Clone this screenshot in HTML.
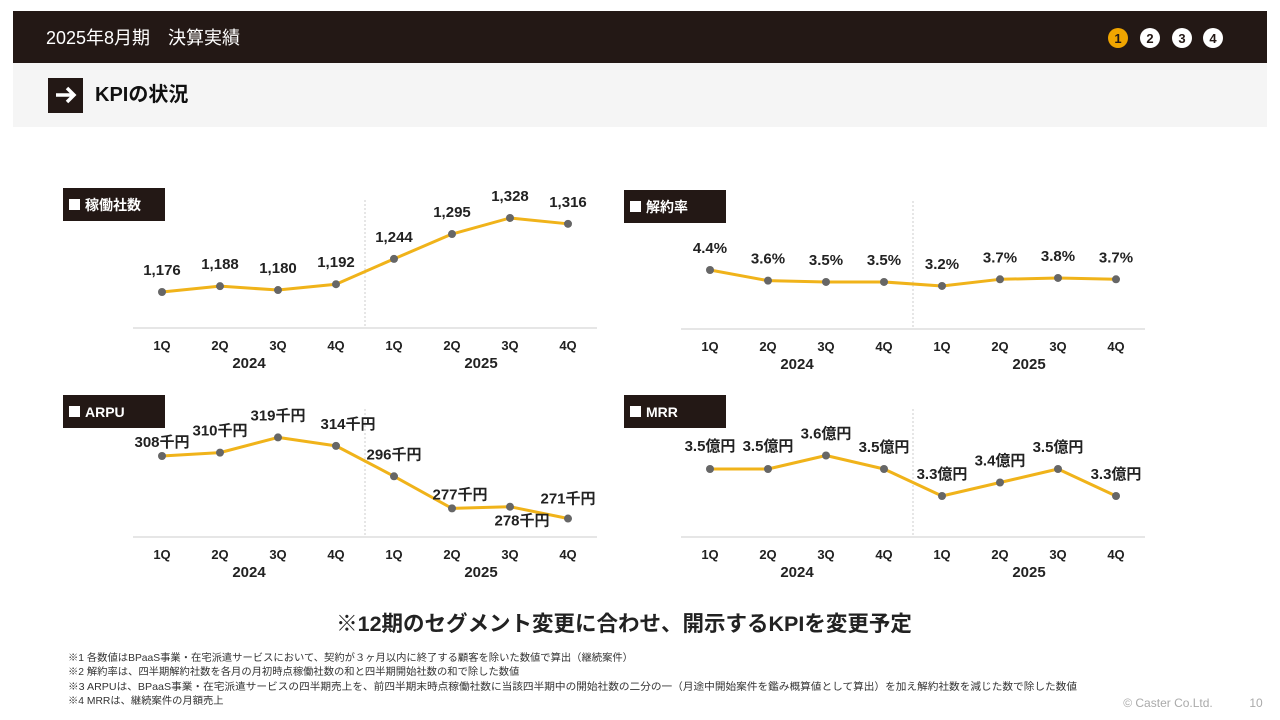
<!DOCTYPE html>
<html><head><meta charset="utf-8"><style>
body{margin:0;width:1280px;height:720px;background:#fff;overflow:hidden;font-family:"Liberation Sans","Noto Sans CJK JP",sans-serif;}
svg{position:absolute;left:0;top:0}
</style></head><body>
<svg width="1280" height="720" xmlns="http://www.w3.org/2000/svg" id="root" font-family="'Liberation Sans','Noto Sans CJK JP',sans-serif">
<rect x="13" y="11" width="1254" height="52" fill="#231815"/>
<text x="46" y="44" fill="#fff" font-size="18">2025年8月期　決算実績</text>
<g>
<circle cx="1118" cy="38" r="10" fill="#f0a500"/><text x="1118" y="43" text-anchor="middle" font-size="13" font-weight="bold" fill="#231815">1</text>
<circle cx="1150" cy="38" r="10" fill="#fff"/><text x="1150" y="43" text-anchor="middle" font-size="13" font-weight="bold" fill="#231815">2</text>
<circle cx="1182" cy="38" r="10" fill="#fff"/><text x="1182" y="43" text-anchor="middle" font-size="13" font-weight="bold" fill="#231815">3</text>
<circle cx="1213" cy="38" r="10" fill="#fff"/><text x="1213" y="43" text-anchor="middle" font-size="13" font-weight="bold" fill="#231815">4</text>
</g>
<rect x="13" y="63" width="1254" height="64" fill="#f5f5f5"/>
<rect x="48" y="78" width="35" height="35" fill="#231815"/>
<path d="M56 95 H74 M67 88 L74 95 L67 102" stroke="#fff" stroke-width="3.5" fill="none"/>
<text x="95" y="101" font-size="20" font-weight="bold" fill="#111">KPIの状況</text>
<g id="charts"></g>
<text x="624" y="631" text-anchor="middle" font-size="21.5" font-weight="bold" fill="#222">※12期のセグメント変更に合わせ、開示するKPIを変更予定</text>
<g font-size="10.3" fill="#333">
<text x="68" y="661">※1 各数値はBPaaS事業・在宅派遣サービスにおいて、契約が３ヶ月以内に終了する顧客を除いた数値で算出（継続案件）</text>
<text x="68" y="675">※2 解約率は、四半期解約社数を各月の月初時点稼働社数の和と四半期開始社数の和で除した数値</text>
<text x="68" y="690" textLength="1009" lengthAdjust="spacingAndGlyphs">※3 ARPUは、BPaaS事業・在宅派遣サービスの四半期売上を、前四半期末時点稼働社数に当該四半期中の開始社数の二分の一（月途中開始案件を鑑み概算値として算出）を加え解約社数を減じた数で除した数値</text>
<text x="68" y="704">※4 MRRは、継続案件の月額売上</text>
</g>
<text x="1168" y="707" text-anchor="middle" font-size="12" fill="#aaa">© Caster Co.Ltd.</text>
<text x="1256" y="707" text-anchor="middle" font-size="12" fill="#aaa">10</text>
</svg>
<script>
const quarters=["1Q","2Q","3Q","4Q","1Q","2Q","3Q","4Q"];
const years=["2024","2025"];
const clientsValues=[1176,1188,1180,1192,1244,1295,1328,1316];
const clientsLabels=["1,176","1,188","1,180","1,192","1,244","1,295","1,328","1,316"];
const churnValues=[4.4,3.6,3.5,3.5,3.2,3.7,3.8,3.7];
const churnLabels=["4.4%","3.6%","3.5%","3.5%","3.2%","3.7%","3.8%","3.7%"];
const arpuValues=[308,310,319,314,296,277,278,271];
const arpuLabels=["308千円","310千円","319千円","314千円","296千円","277千円","278千円","271千円"];
const mrrValues=[3.5,3.5,3.6,3.5,3.3,3.4,3.5,3.3];
const mrrLabels=["3.5億円","3.5億円","3.6億円","3.5億円","3.3億円","3.4億円","3.5億円","3.3億円"];
const NS="http://www.w3.org/2000/svg";
const root=document.getElementById('charts');
function mk(tag,attrs,parent){const e=document.createElementNS(NS,tag);for(const k in attrs)e.setAttribute(k,attrs[k]);parent.appendChild(e);return e;}
function chart(cfg){
  const g=mk('g',{},root);
  
  
  const t=mk('rect',{x:cfg.tx,y:cfg.ty,width:102,height:33,fill:'#231815'},g);
  
  
  mk('rect',{x:cfg.tx+6,y:cfg.ty+11,width:11,height:11,fill:'#fff'},g);
  const tt=mk('text',{x:cfg.tx+22,y:cfg.ty+22,fill:'#fff','font-size':14,'font-weight':'bold'},g);
  tt.textContent=cfg.title;
  
  
  const xs=i=>cfg.x0+i*58;
  const ys=v=>cfg.yRef-(v-cfg.vRef)*cfg.k;
  const ax=mk('line',{x1:cfg.x0-29,x2:cfg.x0+7*58+29,y1:cfg.axisY,y2:cfg.axisY,stroke:'#ddd','stroke-width':1.5},g);
  
  
  mk('line',{x1:cfg.x0+3.5*58,x2:cfg.x0+3.5*58,y1:cfg.axisY-128,y2:cfg.axisY-2,stroke:'#ccc','stroke-width':1,'stroke-dasharray':'2,2'},g);
  quarters.forEach((q,i)=>{const e=mk('text',{x:xs(i),y:cfg.axisY+22,'text-anchor':'middle','font-size':13,'font-weight':'bold',fill:'#222'},g);e.textContent=q;
    
    });
  years.forEach((y,j)=>{const e=mk('text',{x:xs(1.5+j*4),y:cfg.axisY+40,'text-anchor':'middle','font-size':15,'font-weight':'bold',fill:'#222'},g);e.textContent=y;
    
    });
  const pts=cfg.vals.map((v,i)=>xs(i)+','+ys(v)).join(' ');
  const pl=mk('polyline',{points:pts,fill:'none',stroke:'#f0b31a','stroke-width':3,'stroke-linejoin':'round'},g);
  
  
  cfg.vals.forEach((v,i)=>{
    const c=mk('circle',{cx:xs(i),cy:ys(v),r:4,fill:'#666'},g);
    
    
    const off=(cfg.offs&&cfg.offs[i])||[0,-17];
    const l=mk('text',{x:xs(i)+off[0],y:ys(v)+off[1],'text-anchor':'middle','font-size':15,'font-weight':'bold',fill:'#222'},g);
    l.textContent=cfg.labels[i];
    
    
  });
}
chart({name:'active-clients-chart',title:'稼働社数',tx:63,ty:188,x0:162,axisY:328,yRef:292,vRef:1176,k:0.487,vals:clientsValues,labels:clientsLabels});
chart({name:'churn-rate-chart',title:'解約率',tx:624,ty:190,x0:710,axisY:329,yRef:270,vRef:4.4,k:13.3,vals:churnValues,labels:churnLabels});
chart({name:'arpu-chart',title:'ARPU',tx:63,ty:395,x0:162,axisY:537,yRef:456,vRef:308,k:1.69,vals:arpuValues,labels:arpuLabels,
  offs:[[0,-9],[0,-17],[0,-17],[12,-17],[0,-17],[8,-9],[12,19],[0,-15]]});
chart({name:'mrr-chart',title:'MRR',tx:624,ty:395,x0:710,axisY:537,yRef:469,vRef:3.5,k:135,vals:mrrValues,labels:mrrLabels,
  offs:[[0,-18],[0,-18],[0,-17],[0,-17],[0,-17],[0,-17],[0,-17],[0,-17]]});
</script>
</body></html>
